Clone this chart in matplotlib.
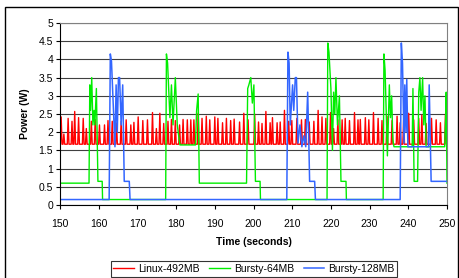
import numpy as np
import matplotlib
matplotlib.use("Agg")
import matplotlib.pyplot as plt
from matplotlib.patches import Rectangle

plt.rcParams['font.family'] = ['Liberation Sans', 'DejaVu Sans']

## Linux-492MB: flat baseline with short periodic spikes (time, peak)
red_base = 1.67
red_spike_t = [150.3, 151.0, 152.1, 153.1, 153.8, 154.8, 156.0, 156.8, 158.1, 159.1,
               160.2, 161.5, 162.4, 163.5, 164.6, 165.8, 167.1, 168.3, 169.1, 170.2,
               171.4, 172.6, 173.9, 174.9, 175.8, 176.8, 177.9, 178.8, 179.8, 180.9,
               181.8, 182.9, 183.8, 184.6, 185.7, 186.7, 187.8, 188.7, 190.0, 190.8,
               192.0, 193.0, 194.1, 195.0, 196.4, 197.5, 198.6, 200.3, 201.3, 202.2,
               203.2, 204.3, 204.9, 206.1, 206.9, 208.0, 209.1, 209.9, 211.2, 212.4,
               213.4, 214.4, 215.6, 216.7, 217.7, 218.7, 219.9, 220.7, 221.8, 222.9,
               223.7, 224.8, 226.1, 227.0, 227.6, 228.9, 229.8, 231.0, 232.2, 233.2,
               234.5, 235.8, 237.1, 237.9, 238.8, 240.1, 241.4, 242.7, 243.5, 244.6,
               246.0, 247.2, 248.3, 249.6]
red_spike_w = [2.42, 1.95, 2.38, 2.3, 2.57, 2.4, 2.38, 2.1, 2.3, 2.35,
               2.2, 2.2, 2.32, 2.3, 2.25, 2.3, 2.34, 2.2, 2.27, 2.42,
               2.32, 2.34, 2.54, 2.1, 2.52, 2.24, 2.3, 2.35, 2.32, 2.2,
               2.35, 2.34, 2.34, 2.34, 2.52, 2.38, 2.44, 2.34, 2.42, 2.38,
               2.26, 2.38, 2.32, 2.36, 2.28, 2.52, 2.34, 2.5, 2.28, 2.24,
               2.57, 2.26, 2.4, 2.26, 2.28, 2.6, 2.3, 2.32, 2.38, 2.34,
               2.35, 2.28, 2.3, 2.6, 2.42, 2.38, 2.54, 2.1, 2.34, 2.34,
               2.38, 2.32, 2.54, 2.34, 2.35, 2.4, 2.34, 2.54, 2.38, 2.32,
               2.44, 2.32, 2.44, 2.26, 2.34, 2.52, 2.34, 2.38, 2.47, 2.24,
               2.38, 2.34, 2.26, 2.5]

## Bursty-64MB
green_t = [150, 157.5, 157.7, 157.9, 158.2, 158.5, 158.8, 159.0, 159.4, 159.8, 160.9, 161.0,
           177.3, 177.5, 177.8, 178.4, 178.8, 179.2, 179.8, 180.3, 180.8, 181.0, 185.0, 185.3,
           185.7, 186.0, 198.2, 198.5, 198.8, 199.3, 199.7, 200.1, 200.5, 201.7, 201.8,
           219.0, 219.2, 219.5, 220.0, 220.4, 220.7, 221.0, 221.3, 221.7, 222.2, 222.6, 223.9, 224.0,
           233.5, 233.7, 234.0, 234.6, 235.1, 235.4, 235.7, 236.0, 236.3, 241.0, 241.2, 241.5,
           242.4, 242.7, 243.0, 243.3, 243.7, 244.0, 244.3, 244.6, 249.4, 249.6, 249.8, 250.0]
green_w = [0.6, 0.6, 3.3, 2.6, 3.5, 2.2, 2.6, 2.2, 3.2, 0.65, 0.65, 0.15,
           0.15, 4.15, 3.9, 2.4, 3.3, 2.2, 3.5, 2.2, 1.8, 1.65, 1.65, 2.6,
           3.05, 0.6, 0.6, 3.2, 3.3, 3.5, 2.8, 3.3, 0.65, 0.65, 0.15,
           0.15, 4.45, 4.2, 3.2, 1.5, 3.1, 2.5, 3.5, 2.2, 3.0, 0.65, 0.65, 0.15,
           0.15, 4.15, 3.7, 1.35, 3.3, 2.4, 3.0, 1.8, 1.6, 1.6, 3.2, 0.65,
           0.65, 3.1, 3.5, 2.6, 3.5, 2.2, 3.0, 1.6, 1.6, 2.2, 3.1, 0.6]

## Bursty-128MB
blue_t = [150, 162.7, 163.0, 163.3, 164.2, 164.5, 164.8, 165.1, 165.4, 165.8, 166.2, 166.6,
          167.9, 168.1, 208.6, 208.9, 209.2, 209.5, 210.1, 210.4, 210.8, 211.1, 211.5, 212.0,
          212.5, 213.0, 213.5, 214.0, 214.3, 214.5, 215.8, 216.0, 237.9, 238.2, 238.5, 238.9,
          239.1, 239.4, 239.6, 239.9, 245.2, 245.4, 245.9, 250.0]
blue_w = [0.15, 0.15, 4.15, 3.95, 1.6, 3.3, 2.0, 3.5, 3.5, 2.2, 3.3, 0.65,
          0.65, 0.15, 0.15, 4.2, 3.9, 2.2, 3.3, 2.6, 3.5, 3.5, 1.7, 2.2,
          1.6, 1.9, 1.6, 3.1, 1.7, 0.65, 0.65, 0.15, 0.15, 4.45, 3.9, 1.7,
          3.3, 2.0, 3.45, 1.6, 1.6, 3.3, 0.65, 0.65]

## build the red trace from spike list
red_t = [150.0]
red_w = [red_base]
for t, w in zip(red_spike_t, red_spike_w):
    red_t += [t - 0.22, t, t + 0.22]
    red_w += [red_base, w, red_base]
red_t.append(250.0)
red_w.append(red_base)

fig = plt.figure(figsize=(4.6, 2.78), dpi=100)
ax = fig.add_axes([60 / 460, 1 - 205 / 278, 387 / 460, 182 / 278])

ax.plot(red_t, red_w, color='#ff0000', lw=1.0, label='Linux-492MB')
ax.plot(green_t, green_w, color='#00ee00', lw=1.0, label='Bursty-64MB')
ax.plot(blue_t, blue_w, color='#3366ff', lw=1.1, label='Bursty-128MB')

ax.set_xlim(150, 250)
ax.set_ylim(0, 5)
ax.set_xticks(np.arange(150, 251, 10))
ax.set_yticks(np.arange(0, 5.01, 0.5))
ax.set_yticklabels(['0', '0.5', '1', '1.5', '2', '2.5', '3', '3.5', '4', '4.5', '5'])
ax.yaxis.grid(True, color='#404040', lw=0.8)
ax.set_axisbelow(True)
ax.tick_params(labelsize=7.5, length=3, width=0.8, color='black', pad=2)
ax.tick_params(axis='x', pad=7)
ax.spines['top'].set_color('#808080')
ax.spines['right'].set_color('#808080')
ax.spines['left'].set_linewidth(0.8)
ax.spines['bottom'].set_linewidth(0.8)

ax.set_xlabel('Time (seconds)', fontsize=7.5, fontweight='bold', labelpad=6)
ax.set_ylabel('Power (W)', fontsize=7.5, fontweight='bold', labelpad=6)

leg = fig.legend(loc='center', bbox_to_anchor=(254 / 460, 1 - 269 / 278), ncol=3,
                 fontsize=7.5, frameon=True, fancybox=False, edgecolor='black',
                 handlelength=2.0, handletextpad=0.4, columnspacing=0.9,
                 borderpad=0.25, borderaxespad=0)
leg.get_frame().set_linewidth(0.8)

## chart area border
fig.patches.append(Rectangle((5 / 460, -0.1), 453 / 460, 1.1 - 7 / 278,
                             transform=fig.transFigure, fill=False,
                             edgecolor='black', lw=1.0))

fig.savefig('out.png', dpi=100)
